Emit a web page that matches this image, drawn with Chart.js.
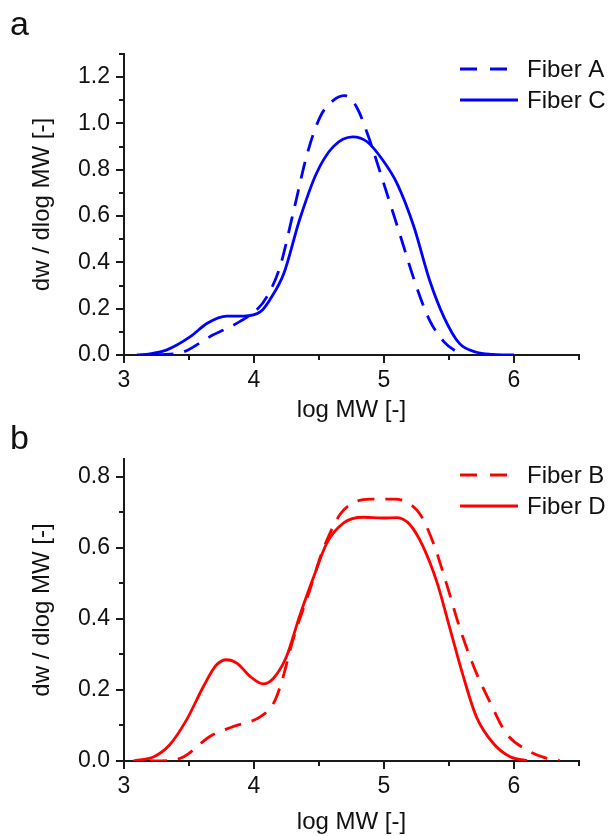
<!DOCTYPE html>
<html>
<head>
<meta charset="utf-8">
<script src="https://cdn.jsdelivr.net/npm/chart.js@4.4.1/dist/chart.umd.min.js"></script>
<style>
  html, body { margin: 0; padding: 0; background: #fff; }
  #wrap { position: relative; width: 610px; height: 836px; overflow: hidden; }
  .box { position: absolute; left: 0; width: 610px; }
  #boxA { top: 0; height: 430px; }
  #boxB { top: 418px; height: 420px; }
  .tag { position: absolute; left: 10px; font: 34px "Liberation Sans", Arial, sans-serif; color: #111; line-height: 1; }
</style>
</head>
<body>
<div id="wrap">
  <div class="box" id="boxA"><canvas id="chartA"></canvas></div>
  <div class="box" id="boxB"><canvas id="chartB"></canvas></div>
  <div class="tag" style="top:6px">a</div>
  <div class="tag" style="top:420px">b</div>
</div>
<script>
const FONT = "'Liberation Sans', Arial, sans-serif";
const AXIS = "#1a1a1a";
const BLUE = "#0000ff";
const RED = "#ff0000";

// panel a
const fiberA_x = [3.25, 3.46, 3.66, 3.89, 4.02, 4.10, 4.20, 4.30, 4.41, 4.51, 4.61, 4.70, 4.79, 4.89, 4.99, 5.12, 5.25, 5.35, 5.46, 5.56, 5.62];
const fiberA_y = [0.0, 0.014, 0.079, 0.144, 0.194, 0.252, 0.381, 0.61, 0.87, 1.03, 1.10, 1.12, 1.07, 0.928, 0.755, 0.525, 0.295, 0.151, 0.058, 0.014, 0.0];
const fiberC_x = [3.10, 3.20, 3.33, 3.51, 3.64, 3.79, 3.92, 4.05, 4.12, 4.23, 4.35, 4.48, 4.61, 4.76, 4.87, 4.99, 5.10, 5.23, 5.35, 5.46, 5.58, 5.71, 5.84, 6.0];
const fiberC_y = [0, 0.005, 0.022, 0.079, 0.137, 0.168, 0.168, 0.187, 0.237, 0.353, 0.583, 0.784, 0.90, 0.942, 0.921, 0.842, 0.741, 0.554, 0.324, 0.165, 0.05, 0.012, 0.003, 0];

// panel b
const fiberB_x = [3.20, 3.33, 3.46, 3.66, 3.84, 4.05, 4.15, 4.21, 4.30, 4.43, 4.53, 4.66, 4.76, 4.89, 5.07, 5.17, 5.28, 5.38, 5.48, 5.58, 5.69, 5.82, 5.94, 6.10, 6.23, 6.35];
const fiberB_y = [0, 0.001, 0.012, 0.069, 0.097, 0.125, 0.162, 0.219, 0.341, 0.482, 0.594, 0.693, 0.726, 0.737, 0.737, 0.73, 0.693, 0.613, 0.50, 0.378, 0.266, 0.162, 0.078, 0.031, 0.01, 0.002];
const fiberD_x = [3.07, 3.23, 3.35, 3.48, 3.61, 3.71, 3.79, 3.87, 3.97, 4.07, 4.15, 4.25, 4.35, 4.46, 4.56, 4.69, 4.84, 4.99, 5.10, 5.20, 5.30, 5.41, 5.51, 5.61, 5.71, 5.84, 5.97, 6.10];
const fiberD_y = [0, 0.012, 0.045, 0.115, 0.209, 0.27, 0.285, 0.275, 0.238, 0.217, 0.233, 0.294, 0.407, 0.519, 0.613, 0.67, 0.686, 0.684, 0.685, 0.665, 0.604, 0.50, 0.369, 0.238, 0.125, 0.05, 0.012, 0.001];

const xMajor = [3, 4, 5, 6];

function pts(xs, ys) {
  return xs.map((x, i) => ({ x, y: ys[i] }));
}

function isMult(v, step) {
  const r = v / step;
  return Math.abs(r - Math.round(r)) < 1e-6;
}

// tick marks drawn outward: long at labelled values, short in between
const tickMarks = {
  id: "tickMarks",
  afterDraw(chart) {
    const { ctx, chartArea } = chart;
    const xs = chart.scales.x, ys = chart.scales.y;
    ctx.save();
    ctx.strokeStyle = AXIS;
    ctx.lineWidth = 2;
    ctx.beginPath();
    xs.ticks.forEach((t) => {
      if (!isMult(t.value, 0.5)) return;
      const px = Math.round(xs.getPixelForValue(t.value));
      const len = isMult(t.value, 1) ? 8 : 5;
      ctx.moveTo(px, chartArea.bottom);
      ctx.lineTo(px, chartArea.bottom + len);
    });
    ys.ticks.forEach((t) => {
      if (!isMult(t.value, 0.1)) return;
      const py = Math.round(ys.getPixelForValue(t.value));
      const len = isMult(t.value, 0.2) ? 8 : 5;
      ctx.moveTo(chartArea.left, py);
      ctx.lineTo(chartArea.left - len, py);
    });
    ctx.stroke();
    ctx.restore();
  }
};

// legend in the upper right corner, drawn from the datasets
const cornerLegend = {
  id: "cornerLegend",
  afterDraw(chart, args, opts) {
    const { ctx } = chart;
    ctx.save();
    ctx.font = `24px ${FONT}`;
    ctx.textBaseline = "middle";
    ctx.fillStyle = "#111";
    chart.data.datasets.forEach((ds, i) => {
      const y = opts.top + i * 31;
      const dashed = ds.borderDash && ds.borderDash.length;
      ctx.beginPath();
      ctx.setLineDash(dashed ? [17, 13] : []);
      ctx.strokeStyle = ds.borderColor;
      ctx.lineWidth = 3;
      ctx.moveTo(460, y);
      ctx.lineTo(dashed ? 507 : 518, y);
      ctx.stroke();
      ctx.setLineDash([]);
      ctx.fillText(ds.label, 527, y + 1);
    });
    ctx.restore();
  }
};

function makeChart(id, cfg) {
  return new Chart(document.getElementById(id), {
    type: "scatter",
    data: {
      datasets: [
        {
          label: cfg.dashedLabel,
          data: cfg.dashed,
          borderColor: cfg.color,
          borderDash: [17, 11],
          borderWidth: 2.8,
          showLine: true,
          pointRadius: 0,
          cubicInterpolationMode: "monotone"
        },
        {
          label: cfg.solidLabel,
          data: cfg.solid,
          borderColor: cfg.color,
          borderWidth: 2.8,
          showLine: true,
          pointRadius: 0,
          cubicInterpolationMode: "monotone"
        }
      ]
    },
    options: {
      responsive: true,
      maintainAspectRatio: false,
      animation: false,
      layout: { padding: { top: cfg.top, right: 31, left: 0, bottom: 0 } },
      plugins: {
        legend: { display: false },
        tooltip: { enabled: false },
        cornerLegend: { top: cfg.legendTop }
      },
      scales: {
        x: {
          type: "linear",
          min: 3,
          max: 6.5,
          afterFit: (s) => { s.height = cfg.xHeight; },
          grid: { display: false, drawTicks: true, tickLength: 8 },
          border: { display: true, color: AXIS, width: 2 },
          ticks: {
            stepSize: 0.5,
            includeBounds: false,
            autoSkip: false,
            maxRotation: 0,
            padding: 4,
            color: "#111",
            font: { family: FONT, size: 23 },
            callback: (v) => (xMajor.includes(v) ? String(v) : "")
          },
          title: {
            display: true,
            text: "log MW [-]",
            color: "#111",
            font: { family: FONT, size: 24 },
            padding: { top: 0, bottom: cfg.xTitlePad }
          }
        },
        y: {
          min: 0,
          max: cfg.yMax,
          afterFit: (s) => { s.width = 124; },
          grid: { display: false, drawTicks: true, tickLength: 8 },
          border: { display: true, color: AXIS, width: 2 },
          ticks: {
            stepSize: 0.1,
            includeBounds: false,
            autoSkip: false,
            padding: 6,
            color: "#111",
            font: { family: FONT, size: 23 },
            callback: (v) => (isMult(v, 0.2) ? v.toFixed(1) : "")
          },
          title: {
            display: true,
            text: "dw / dlog MW [-]",
            color: "#111",
            font: { family: FONT, size: 24 },
            padding: { top: 28, bottom: 0 }
          }
        }
      }
    },
    plugins: [tickMarks, cornerLegend]
  });
}

makeChart("chartA", {
  dashedLabel: "Fiber A",
  solidLabel: "Fiber C",
  dashed: pts(fiberA_x, fiberA_y),
  solid: pts(fiberC_x, fiberC_y),
  color: BLUE,
  yMax: 1.3,
  top: 54,
  xHeight: 75,
  xTitlePad: 5,
  legendTop: 69
});

makeChart("chartB", {
  dashedLabel: "Fiber B",
  solidLabel: "Fiber D",
  dashed: pts(fiberB_x, fiberB_y),
  solid: pts(fiberD_x, fiberD_y),
  color: RED,
  yMax: 0.85,
  top: 41,
  xHeight: 77,
  xTitlePad: 1,
  legendTop: 57
});
</script>
</body>
</html>
